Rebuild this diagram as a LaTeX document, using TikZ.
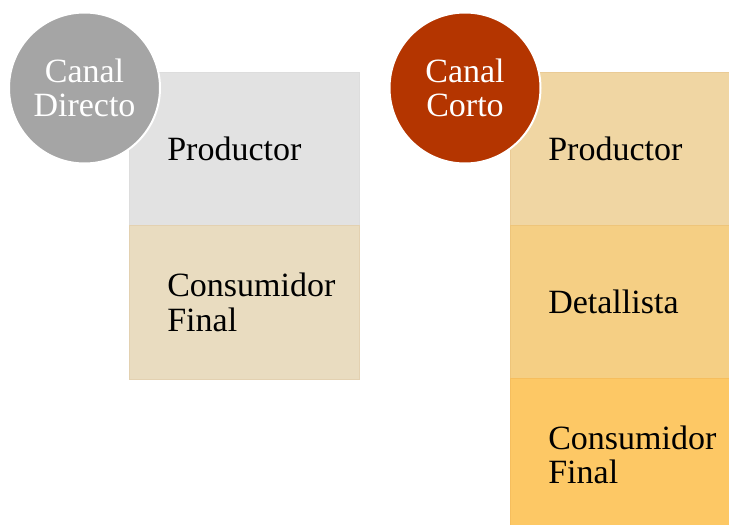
\documentclass[tikz,border=0pt]{standalone}
\usepackage{fontspec}
\setmainfont{Liberation Serif}
\definecolor{dirgray}{HTML}{A5A5A5}
\definecolor{cortored}{HTML}{B43500}
\definecolor{boxgray}{HTML}{E2E2E2}
\definecolor{boxtan}{HTML}{E9DCC0}
\definecolor{sandA}{HTML}{F0D6A3}
\definecolor{sandB}{HTML}{F5CF84}
\definecolor{sandC}{HTML}{FDC865}
\begin{document}
\begin{tikzpicture}[x=1pt,y=-1pt,
  bigtext/.style={font=\fontsize{34}{34.5}\selectfont},
  stagebox/.style n args={3}{rectangle, anchor=north west, fill=#1, draw=#1!95!orange!97!black,
    line width=0.6pt, inner xsep=38pt, inner ysep=0pt,
    minimum width=#2, minimum height=#3, text width=#2-76pt, align=left, bigtext},
  channel/.style={circle, fill=#1, draw=white, line width=2pt, minimum size=151pt,
    inner sep=0pt, align=center, text=white, bigtext}]
  \useasboundingbox (0,0) rectangle (729,525);

  % Canal directo
  \node[stagebox={boxgray}{230pt}{153pt}, draw=boxgray!98!black] (dprod) at (129,72) {Productor};
  \node[stagebox={boxtan}{230pt}{154pt}] (dcons) at (129,225) {Consumidor\\Final};
  \node[channel=dirgray] (directo) at (84.5,88) {Canal\\Directo};

  % Canal corto
  \node[stagebox={sandA}{219pt}{153pt}] (cprod) at (510,72) {Productor};
  \node[stagebox={sandB}{219pt}{153pt}] (cdet) at (510,225) {Detallista};
  \node[stagebox={sandC}{219pt}{153pt}] (ccons) at (510,378) {Consumidor\\Final};
  \node[channel=cortored] (corto) at (465,88) {Canal\\Corto};
\end{tikzpicture}
\end{document}
